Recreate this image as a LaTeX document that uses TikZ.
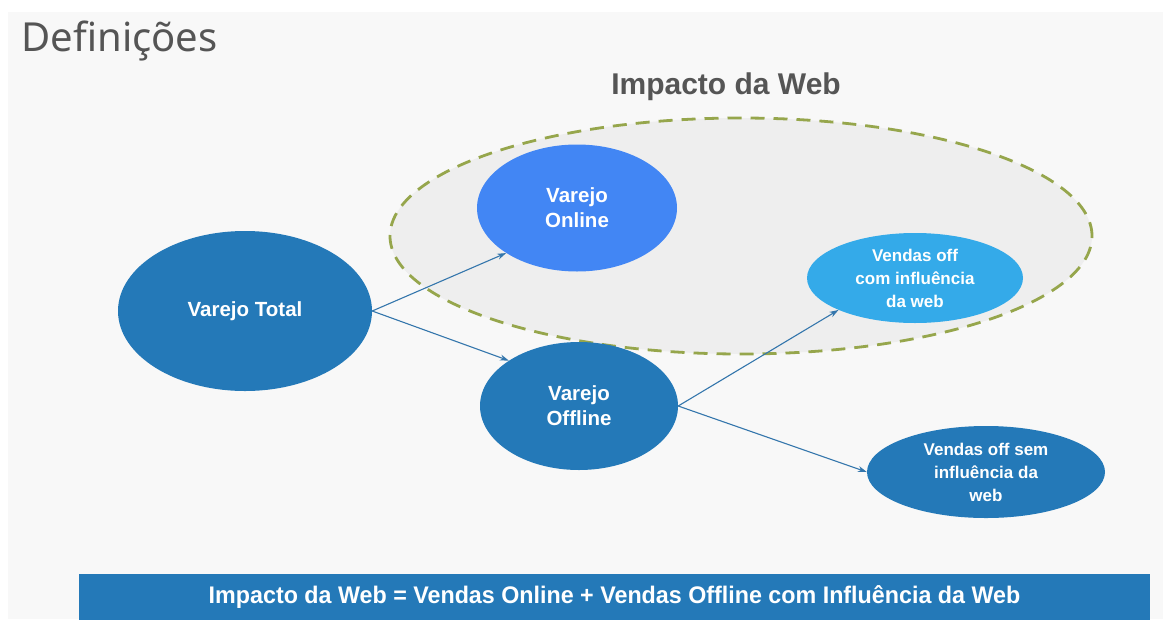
\documentclass[tikz,border=0pt]{standalone}
\usepackage{fontspec}
\setmainfont{Liberation Sans}
\newfontfamily\titlefont{Noto Sans}
\usetikzlibrary{shapes.geometric,arrows.meta}
\definecolor{bgc}{RGB}{248,248,248}
\definecolor{darkblue}{RGB}{36,121,184}
\definecolor{onlineblue}{RGB}{66,134,244}
\definecolor{lightblue}{RGB}{52,170,233}
\definecolor{zonefill}{RGB}{238,238,238}
\definecolor{zoneline}{RGB}{150,166,76}
\definecolor{arrowc}{RGB}{52,118,172}
\definecolor{titlec}{RGB}{85,85,85}
\tikzset{
  bubble/.style={ellipse, inner sep=0pt, text=white, font=\bfseries\fontsize{20.5}{25}\selectfont, align=center},
  small/.style={font=\bfseries\fontsize{17}{23}\selectfont},
  link/.style={draw=arrowc, line width=1.1pt, -{Stealth[length=9pt,width=6pt]}},
}
\begin{document}
\begin{tikzpicture}[x=1pt,y=-1pt]
\useasboundingbox (0,0) rectangle (1167,619);
\fill[white] (0,0) rectangle (1167,619);
\fill[bgc] (8,12) rectangle (1163,619);
\node[anchor=west, text=titlec, font=\titlefont\fontsize{40}{44}\selectfont] (title) at (18,41) {Definições};
\node[text=titlec, font=\bfseries\fontsize{30}{33}\selectfont] (imp) at (726,87) {Impacto da Web};
\node[ellipse, fill=zonefill, draw=zoneline, line width=2.8pt, dash pattern=on 14pt off 9pt, minimum width=702pt, minimum height=236pt] (zone) at (741,236) {};
\node[bubble, fill=darkblue, minimum width=254pt, minimum height=160pt] (total) at (245,311) {Varejo Total};
\node[bubble, fill=onlineblue, minimum width=200pt, minimum height=127pt] (online) at (577,208) {Varejo\\Online};
\node[bubble, fill=darkblue, minimum width=198pt, minimum height=128pt] (offline) at (579,406) {Varejo\\Offline};
\node[bubble, small, fill=lightblue, minimum width=216pt, minimum height=90pt] (com) at (915,278) {Vendas off\\com influência\\da web};
\node[bubble, small, fill=darkblue, minimum width=238pt, minimum height=92pt] (sem) at (986,472) {Vendas off sem\\influência da\\web};
\draw[link] (total.east) -- (online.south west);
\draw[link] (total.east) -- (offline.north west);
\draw[link] (offline.east) -- (com.south west);
\draw[link] (offline.east) -- (sem.west);
\node[fill=darkblue, minimum width=1071pt, minimum height=46pt, inner sep=0pt, text=white, font=\bfseries\fontsize{24}{26}\selectfont] (bar) at (614.5,597) {\scalebox{0.97}[1]{Impacto da Web = Vendas Online + Vendas Offline com Influência da Web}};
\end{tikzpicture}
\end{document}
